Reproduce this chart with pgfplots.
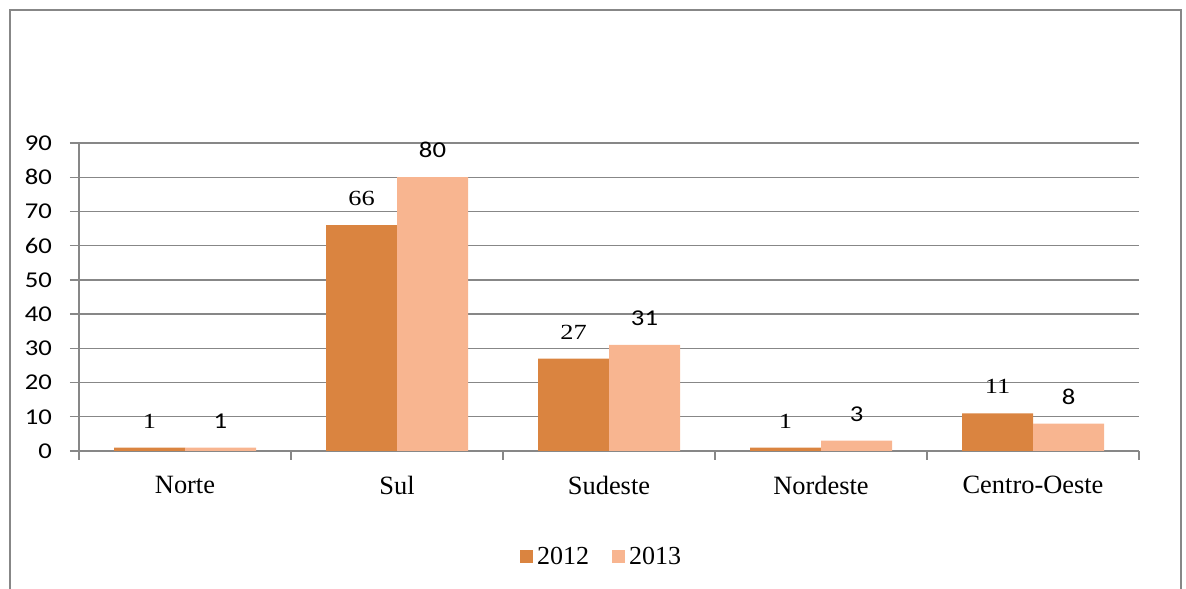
\documentclass[border=0pt]{standalone}
\usepackage{fontspec}
\setmainfont{Liberation Serif}
\newfontfamily\ticksans{Carlito}[FakeStretch=1.18]
\newfontfamily\lblserif{Liberation Serif}[FakeStretch=1.22]
\usepackage{pgfplots}
\pgfplotsset{compat=1.18}
\definecolor{c12}{HTML}{DA8440}
\definecolor{c13}{HTML}{F8B590}
\definecolor{gridgray}{HTML}{878787}
\begin{document}
\begin{tikzpicture}
\useasboundingbox (0,0) rectangle (593pt,294pt);
\draw[gridgray, line width=1pt] (5pt,-10pt) rectangle (590.5pt,289pt);
\begin{axis}[at={(39.5pt,68.5pt)}, anchor=south west, scale only axis,
  width=530pt, height=154pt,
  ymin=0, ymax=90, xmin=-0.5, xmax=4.5,
  ytick={0,10,...,90},
  ymajorgrids, grid style={gridgray, line width=0.7pt},
  axis x line*=bottom, axis y line*=left,
  axis line style={-, gridgray, line width=0.7pt},
  tick style={gridgray, line width=0.7pt},
  tick align=outside, major tick length=4.5pt,
  xtick={-0.5,0.5,...,4.5}, xticklabels={},
  extra x ticks={0,1,2,3,4},
  extra x tick labels={Norte,Sul,Sudeste,Nordeste,Centro-Oeste},
  extra x tick style={tick style={draw=none}, grid=none},
  xticklabel style={font=\fontsize{13.2}{15}\selectfont, yshift=-4.5pt},
  yticklabel style={font=\ticksans\fontsize{11.3}{13}\selectfont, xshift=-5.5pt},
  /pgf/number format/assume math mode=true,
  ybar=0pt, bar width=35.5pt,
  legend style={at={(0.494,-0.344)}, anchor=center, draw=none,
    legend columns=2, font=\fontsize{13}{15}\selectfont,
    /tikz/every even column/.append style={column sep=9.5pt}},
  legend image code/.code={\fill[#1] (0pt,-3.25pt) rectangle (6.5pt,3.25pt);},
]
\addplot[fill=c12, draw=none, nodes near coords,
  every node near coord/.append style={font=\lblserif\fontsize{10.8}{12}\selectfont, text=black, anchor=south, inner sep=0pt, yshift=9.5pt}]
  coordinates {(0,1) (1,66) (2,27) (3,1) (4,11)};
\addplot[fill=c13, draw=none, nodes near coords,
  every node near coord/.append style={font=\ticksans\fontsize{11.3}{13}\selectfont, text=black, anchor=south, inner sep=0pt, yshift=9.5pt}]
  coordinates {(0,1) (1,80) (2,31) (3,3) (4,8)};
\legend{2012,2013}
\end{axis}
\end{tikzpicture}
\end{document}
